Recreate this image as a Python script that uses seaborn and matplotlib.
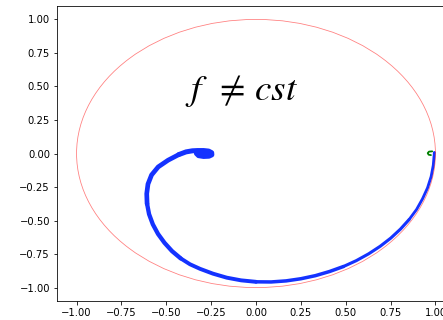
import matplotlib
matplotlib.use("Agg")
import matplotlib.pyplot as plt
import pandas as pd
import seaborn as sns

# spiral, starting at (1, 0) and winding inwards
spiral_x = [0.994, 0.988, 0.976, 0.956, 0.928, 0.895, 0.853, 0.805, 0.751, 0.692,
            0.628, 0.559, 0.487, 0.410, 0.331, 0.250, 0.168, 0.084, 0.000, -0.083,
            -0.163, -0.240, -0.312, -0.368, -0.420, -0.468, -0.510, -0.546, -0.575, -0.596,
            -0.607, -0.609, -0.602, -0.582, -0.545, -0.490, -0.430, -0.390, -0.355, -0.325,
            -0.292, -0.264, -0.247, -0.246, -0.262, -0.292, -0.320, -0.332, -0.312, -0.282,
            -0.262]
spiral_y = [0.008, -0.087, -0.172, -0.256, -0.338, -0.417, -0.493, -0.564, -0.631, -0.692,
            -0.748, -0.799, -0.843, -0.880, -0.911, -0.934, -0.950, -0.958, -0.957, -0.946,
            -0.926, -0.896, -0.860, -0.826, -0.782, -0.728, -0.666, -0.600, -0.528, -0.452,
            -0.375, -0.300, -0.228, -0.160, -0.100, -0.050, -0.008, 0.012, 0.020, 0.022,
            0.022, 0.018, 0.006, -0.010, -0.020, -0.022, -0.016, 0.000, 0.010, 0.008,
            0.000]

# small green hook near (1, 0)
hook_x = [0.982, 0.964, 0.957, 0.962, 0.975]
hook_y = [0.016, 0.014, 0.003, -0.009, -0.012]

ticks = [-1.0, -0.75, -0.5, -0.25, 0.0, 0.25, 0.5, 0.75, 1.0]

spiral = pd.DataFrame({"x": spiral_x, "y": spiral_y})
hook = pd.DataFrame({"x": hook_x, "y": hook_y})

fig = plt.figure(figsize=(443 / 72, 320 / 72), dpi=72)
ax = fig.add_axes([57 / 443, 19 / 320, 398 / 443, 295 / 320])

# the line gets thicker as it winds in
chunks = [(0, 7, 2.8), (6, 13, 3.1), (12, 19, 3.5), (18, 25, 3.9), (24, 31, 4.3),
          (30, 37, 4.7), (36, len(spiral), 5.0)]
for start, stop, lw in chunks:
    seg = spiral.iloc[start:stop]
    sns.lineplot(data=seg, x="x", y="y", sort=False, estimator=None, color="#1432ff",
                 lw=lw, ax=ax, zorder=2, solid_capstyle="round", solid_joinstyle="round")
sns.lineplot(data=hook, x="x", y="y", sort=False, estimator=None, color="green",
             lw=1.8, ax=ax, zorder=3, solid_capstyle="round")

ax.add_patch(plt.Circle((0, 0), 1, fill=False, color="red", alpha=0.5, lw=0.8, zorder=4))

ax.text(-0.081, 0.47, r"$f\ \,\neq\,cst$", fontsize=37, ha="center", va="center",
        math_fontfamily="stix")

ax.set_xlim(-1.109, 1.109)
ax.set_ylim(-1.1, 1.1)
ax.set_xticks(ticks)
ax.set_yticks(ticks)
ax.set_xlabel("")
ax.set_ylabel("")

fig.savefig("out.png", dpi=72)
